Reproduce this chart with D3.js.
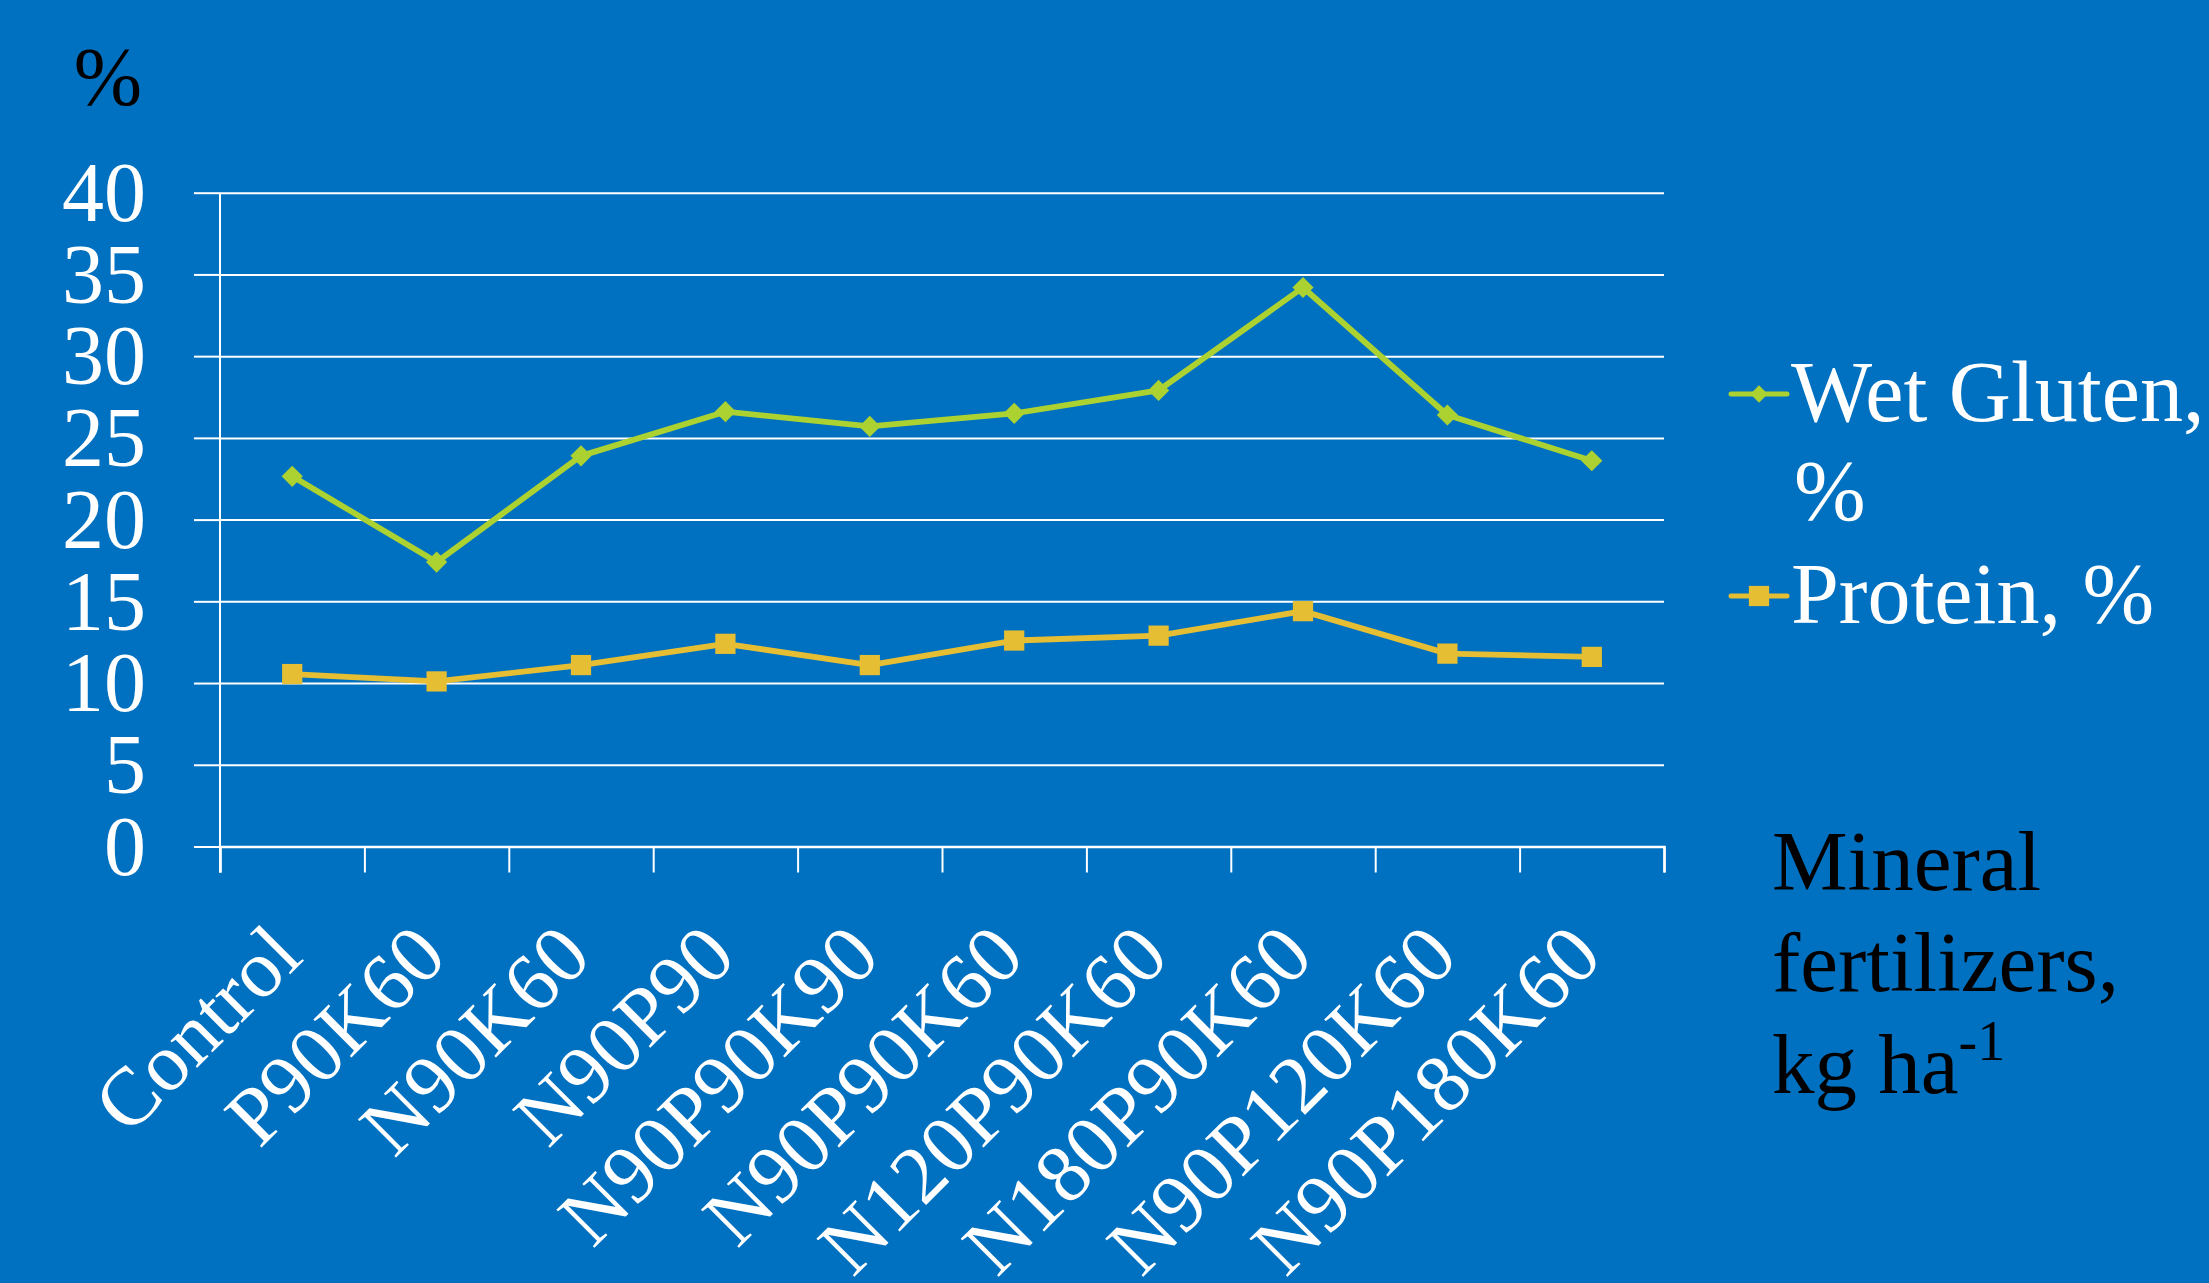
<!DOCTYPE html>
<html>
<head>
<meta charset="utf-8">
<script src="https://cdn.jsdelivr.net/npm/d3@7"></script>
<style>
  html, body { margin: 0; padding: 0; background: #0070C0; }
  svg { display: block; }
  text { font-family: "Liberation Serif", "Times New Roman", serif; }
</style>
</head>
<body>
<svg id="chart" width="2209" height="1283"></svg>
<script>
const categories = ["Control", "P90K60", "N90K60", "N90P90", "N90P90K90", "N90P90K60", "N120P90K60", "N180P90K60", "N90P120K60", "N90P180K60"];
const wetGluten = [22.65, 17.4, 23.9, 26.6, 25.7, 26.5, 27.9, 34.2, 26.4, 23.6];
const protein = [10.55, 10.1, 11.1, 12.4, 11.1, 12.6, 12.9, 14.4, 11.8, 11.6];
const yTicks = [0, 5, 10, 15, 20, 25, 30, 35, 40];
const seriesNames = ["Wet Gluten,", "Protein, %"];

const W = 2209, H = 1283;
const plotLeft = 220, plotRight = 1664, plotTop = 192.7, plotBottom = 846.5;
const green = "#ABD231", yellow = "#E5BE33";
const serif = "'Liberation Serif', 'Times New Roman', serif";

const svg = d3.select("#chart");
svg.append("rect").attr("width", W).attr("height", H).attr("fill", "#0070C0");

const y = d3.scaleLinear().domain([0, 40]).range([plotBottom, plotTop]);
const x = d3.scaleBand().domain(categories).range([plotLeft, plotRight]).padding(0);
const xb = d3.scaleLinear().domain([0, categories.length]).range([plotLeft, plotRight]);

// gridlines
const grid = svg.append("g").attr("transform", `translate(${plotLeft},0)`)
  .call(d3.axisLeft(y).tickValues(yTicks).tickSize(-(plotRight - plotLeft)).tickFormat(""));
grid.select(".domain").remove();
grid.selectAll("line").attr("stroke", "#fff").attr("stroke-width", 2);

// y axis
const yAxis = svg.append("g").attr("transform", `translate(${plotLeft},0)`)
  .call(d3.axisLeft(y).tickValues(yTicks).tickSize(26).tickPadding(48));
yAxis.attr("font-family", serif);
yAxis.select(".domain").remove();
yAxis.selectAll("line").attr("stroke", "#fff").attr("stroke-width", 2);
yAxis.selectAll("text").attr("fill", "#fff").attr("font-size", 84)
  .attr("font-family", serif).attr("dy", "0.33em");
svg.append("line").attr("x1", plotLeft).attr("x2", plotLeft).attr("y1", plotTop).attr("y2", plotBottom + 26)
  .attr("stroke", "#fff").attr("stroke-width", 2);

// x axis (boundary ticks)
const xAxis = svg.append("g").attr("transform", `translate(0,${plotBottom})`)
  .call(d3.axisBottom(xb).tickValues(d3.range(categories.length + 1)).tickSize(26).tickFormat(""));
xAxis.select(".domain").attr("stroke", "#fff").attr("stroke-width", 2.5);
xAxis.selectAll("line").attr("stroke", "#fff").attr("stroke-width", 2);

// x labels
svg.append("g").selectAll("text").data(categories).join("text")
  .attr("transform", d => `translate(${x(d) + x.bandwidth() / 2 + 13},${plotBottom + 113}) rotate(-45)`)
  .attr("text-anchor", "end")
  .attr("font-family", serif)
  .attr("fill", "#fff").attr("font-size", 82)
  .text(d => d);

// lines
const line = d3.line().x((d, i) => x(categories[i]) + x.bandwidth() / 2).y(d => y(d));
svg.append("path").datum(wetGluten).attr("d", line).attr("fill", "none")
  .attr("stroke", green).attr("stroke-width", 5.8).attr("stroke-linejoin", "round");
svg.append("path").datum(protein).attr("d", line).attr("fill", "none")
  .attr("stroke", yellow).attr("stroke-width", 5.8).attr("stroke-linejoin", "round");

const diamond = d3.symbol().type(d3.symbolSquare).size(225);
const square = d3.symbol().type(d3.symbolSquare).size(410);

svg.append("g").selectAll("path").data(wetGluten).join("path")
  .attr("d", diamond)
  .attr("transform", (d, i) => `translate(${x(categories[i]) + x.bandwidth() / 2},${y(d)}) rotate(45)`)
  .attr("fill", green);
svg.append("g").selectAll("path").data(protein).join("path")
  .attr("d", square)
  .attr("transform", (d, i) => `translate(${x(categories[i]) + x.bandwidth() / 2},${y(d)})`)
  .attr("fill", yellow);

// y title
svg.append("text").attr("x", 108).attr("y", 104).attr("text-anchor", "middle")
  .attr("font-family", serif)
  .attr("fill", "#000").attr("font-size", 82).text("%");

// legend
const leg = svg.append("g");
const legItems = [
  { color: green, d: d3.symbol().type(d3.symbolSquare).size(150)(), rot: 45, y: 394, lines: [seriesNames[0], "%"], ty: 421 },
  { color: yellow, d: d3.symbol().type(d3.symbolSquare).size(410)(), rot: 0, y: 596, lines: [seriesNames[1]], ty: 623 }
];
legItems.forEach(it => {
  leg.append("line").attr("x1", 1731).attr("x2", 1787).attr("y1", it.y).attr("y2", it.y)
    .attr("stroke", it.color).attr("stroke-width", 5).attr("stroke-linecap", "round");
  leg.append("path").attr("d", it.d)
    .attr("transform", `translate(1759,${it.y}) rotate(${it.rot})`).attr("fill", it.color);
  it.lines.forEach((t, k) => {
    leg.append("text").attr("x", k === 0 ? 1791 : 1794).attr("y", it.ty + k * 99)
      .attr("font-family", serif)
      .attr("fill", "#fff").attr("font-size", 86).text(t);
  });
});

// x title
const xt = svg.append("text").attr("fill", "#000").attr("font-size", 85).attr("font-family", serif);
xt.append("tspan").attr("x", 1772).attr("y", 890).text("Mineral");
xt.append("tspan").attr("x", 1772).attr("y", 991).text("fertilizers,");
xt.append("tspan").attr("x", 1772).attr("y", 1093).text("kg ha");
xt.append("tspan").attr("dy", -33).attr("font-size", 56).text("-1");
</script>
</body>
</html>
